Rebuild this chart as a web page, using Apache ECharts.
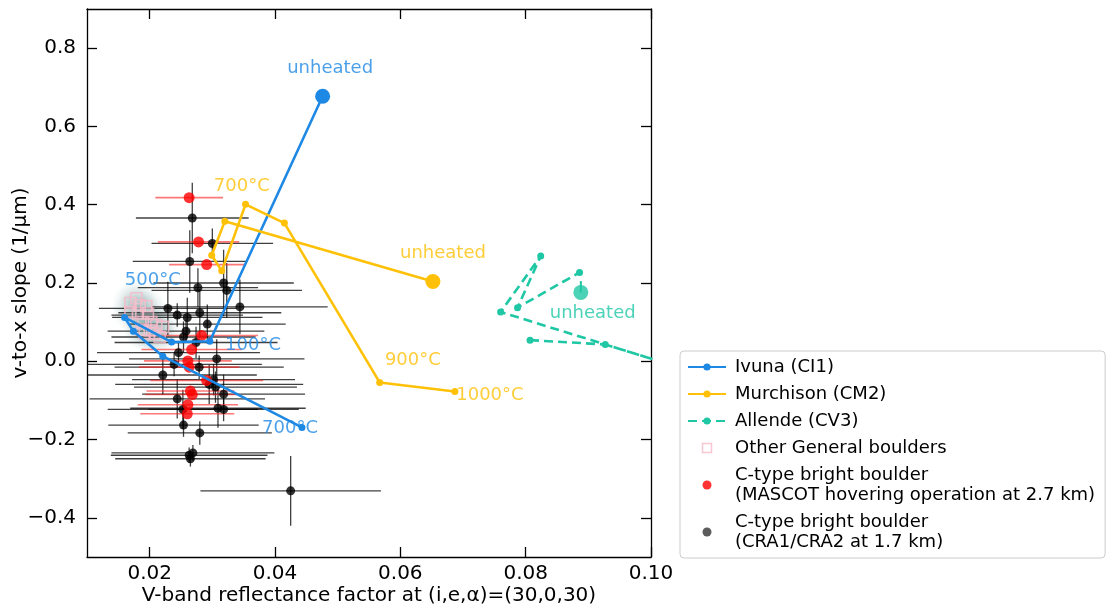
<!DOCTYPE html>
<html><head><meta charset="utf-8">
<script src="https://cdn.jsdelivr.net/npm/echarts@6/dist/echarts.min.js"></script>
<style>html,body{margin:0;padding:0;background:#fff}#c{width:1109px;height:609px}</style>
</head><body><div id="c"></div>
<script>
// ---- axis ticks ----
const xTicks = [0.02, 0.04, 0.06, 0.08, 0.10];
const yTicks = [-0.4, -0.2, 0.0, 0.2, 0.4, 0.6, 0.8];

// ---- laboratory heating sequences ----
const ivunaX = [0.0476, 0.0296, 0.0235, 0.0160, 0.0174, 0.0221, 0.0443];
const ivunaY = [0.677, 0.051, 0.049, 0.112, 0.077, 0.013, -0.169];
const murchX = [0.0652, 0.0320, 0.0299, 0.0315, 0.0353, 0.0415, 0.0567, 0.0687];
const murchY = [0.204, 0.358, 0.271, 0.231, 0.401, 0.353, -0.054, -0.077];
const allendeX = [0.0807, 0.0927, 0.1078, 0.0760, 0.0824, 0.0787, 0.0886];
const allendeY = [0.054, 0.043, -0.032, 0.126, 0.269, 0.137, 0.227];
const allendeUnheated = [0.0888, 0.176, 0.205]; // x, y, upper error end

// ---- annotations ----
const noteText = ['unheated', '700°C', 'unheated', '500°C', '100°C', '900°C', '1000°C', '700°C', 'unheated'];
const noteX = [0.0488, 0.0347, 0.0668, 0.0205, 0.0365, 0.0620, 0.0743, 0.0424, 0.0907];
const noteY = [0.748, 0.447, 0.276, 0.207, 0.041, 0.003, -0.087, -0.171, 0.123];
const noteSeries = ['ivuna', 'murch', 'murch', 'ivuna', 'ivuna', 'murch', 'murch', 'ivuna', 'allende'];

// ---- other general boulders ----
const genX = [0.01692, 0.01788, 0.01840, 0.01947, 0.01692, 0.01813, 0.01973, 0.01893, 0.02027, 0.02107, 0.01867, 0.0200, 0.02212, 0.0216, 0.0208, 0.0192];
const genY = [0.149, 0.161, 0.143, 0.1405, 0.126, 0.122, 0.122, 0.100, 0.100, 0.092, 0.081, 0.079, 0.088, 0.062, 0.071, 0.071];

// ---- C-type bright boulders, MASCOT hovering (2.7 km) ----
const mX = [0.0263, 0.0278, 0.0291, 0.0283, 0.0267, 0.0261, 0.0263, 0.0291, 0.0265, 0.0268, 0.0261, 0.0260];
const mY = [0.418, 0.305, 0.247, 0.066, 0.030, 0.001, -0.015, -0.049, -0.076, -0.085, -0.111, -0.134];
const mXErr = [0.0054, 0.0065, 0.0060, 0.0090, 0.0080, 0.0070, 0.0080, 0.0090, 0.0070, 0.0075, 0.0080, 0.0075];

// ---- C-type bright boulders, CRA1/CRA2 (1.7 km) ----
const cX = [0.0268, 0.0300, 0.0264, 0.0318, 0.0277, 0.0323, 0.0344, 0.0229, 0.0244, 0.0260, 0.0280, 0.0292, 0.0258, 0.0254, 0.0274, 0.0246, 0.0307, 0.0239, 0.0279, 0.0221, 0.0302, 0.0295, 0.0305, 0.0318, 0.0244, 0.0253, 0.0309, 0.0318, 0.0254, 0.0280, 0.0263, 0.0269, 0.0265, 0.0425];
const cY = [0.366, 0.301, 0.255, 0.200, 0.188, 0.181, 0.139, 0.135, 0.118, 0.112, 0.124, 0.095, 0.077, 0.062, 0.048, 0.022, 0.006, -0.008, -0.015, -0.035, -0.047, -0.059, -0.066, -0.084, -0.096, -0.123, -0.120, -0.123, -0.163, -0.183, -0.240, -0.234, -0.249, -0.331];
const cXErr = [0.0090, 0.0097, 0.0091, 0.0112, 0.0096, 0.0120, 0.0140, 0.0110, 0.0105, 0.0120, 0.0130, 0.0125, 0.0125, 0.0115, 0.0130, 0.0130, 0.0140, 0.0140, 0.0135, 0.0150, 0.0130, 0.0150, 0.0130, 0.0130, 0.0140, 0.0120, 0.0140, 0.0120, 0.0120, 0.0115, 0.0125, 0.0130, 0.0120, 0.0144];
const cYErr = [0.090, 0.038, 0.080, 0.085, 0.050, 0.070, 0.070, 0.068, 0.030, 0.050, 0.060, 0.050, 0.030, 0.040, 0.040, 0.030, 0.050, 0.030, 0.030, 0.050, 0.040, 0.050, 0.040, 0.050, 0.050, 0.050, 0.050, 0.030, 0.030, 0.030, 0.020, 0.020, 0.020, 0.089];

const FONT = 'DejaVu Sans';
const C_IVUNA = '#1e88e5', C_MURCH = '#ffc107', C_ALL = '#1fc7a5', C_PINK = '#f8b8c8';
const noteColor = {ivuna: C_IVUNA, murch: C_MURCH, allende: C_ALL};

const N_IVUNA = 'Ivuna (CI1)', N_MURCH = 'Murchison (CM2)', N_ALL = 'Allende (CV3)';
const N_GEN = 'Other General boulders';
const N_M = 'C-type bright boulder\n(MASCOT hovering operation at 2.7 km)';
const N_C = 'C-type bright boulder\n(CRA1/CRA2 at 1.7 km)';

const zip = (a, b) => a.map((v, i) => [v, b[i]]);

function errRender(color, width) {
  return function (params, api) {
    const x = api.value(0), y = api.value(1), xe = api.value(2), ye = api.value(3);
    const children = [];
    if (xe > 0) {
      const a = api.coord([x - xe, y]), b = api.coord([x + xe, y]);
      children.push({type: 'line', shape: {x1: a[0], y1: a[1], x2: b[0], y2: b[1]}, style: {stroke: color, lineWidth: width}});
    }
    if (ye > 0) {
      const a = api.coord([x, y - ye]), b = api.coord([x, y + ye]);
      children.push({type: 'line', shape: {x1: a[0], y1: a[1], x2: b[0], y2: b[1]}, style: {stroke: color, lineWidth: width}});
    }
    return {type: 'group', children};
  };
}

const axisCommon = {
  type: 'value', scale: false,
  axisLine: {show: true, onZero: false, lineStyle: {color: '#000', width: 1.3}},
  splitLine: {show: false},
  nameMoveOverlap: false
};
const tickStyle = {show: true, inside: true, length: 10, lineStyle: {color: '#000', width: 1.3}};

const glowColor = {
  type: 'radial', x: 0.5, y: 0.5, r: 0.5,
  colorStops: [
    {offset: 0, color: 'rgba(25,95,95,0.16)'},
    {offset: 0.6, color: 'rgba(25,95,95,0.07)'},
    {offset: 1, color: 'rgba(25,95,95,0)'}
  ]
};

const chart = echarts.init(document.getElementById('c'), null, {renderer: 'canvas'});
chart.setOption({
  animation: false,
  backgroundColor: '#fff',
  grid: {left: 87, right: 458, top: 9, bottom: 52, containLabel: false, outerBoundsMode: 'none'},
  xAxis: [
    Object.assign({}, axisCommon, {
      min: 0.01, max: 0.10, position: 'bottom',
      name: 'V-band reflectance factor at (i,e,α)=(30,0,30)', nameLocation: 'middle', nameGap: 29,
      nameTextStyle: {fontFamily: FONT, fontSize: 20, color: '#000'},
      axisTick: Object.assign({customValues: xTicks}, tickStyle),
      axisLabel: {show: true, margin: 7, fontFamily: FONT, fontSize: 20, color: '#000', customValues: xTicks, formatter: v => v.toFixed(2)}
    }),
    Object.assign({}, axisCommon, {
      min: 0.01, max: 0.10, position: 'top',
      axisTick: Object.assign({customValues: xTicks}, tickStyle),
      axisLabel: {show: false}
    })
  ],
  yAxis: [
    Object.assign({}, axisCommon, {
      min: -0.5, max: 0.9, position: 'left',
      name: 'v-to-x slope (1/μm)', nameLocation: 'middle', nameGap: 56,
      nameTextStyle: {fontFamily: FONT, fontSize: 20, color: '#000'},
      axisTick: Object.assign({customValues: yTicks}, tickStyle),
      axisLabel: {show: true, margin: 11, fontFamily: FONT, fontSize: 20, color: '#000', customValues: yTicks,
        formatter: v => (v < 0 ? '\u2212' : '') + Math.abs(v).toFixed(1)}
    }),
    Object.assign({}, axisCommon, {
      min: -0.5, max: 0.9, position: 'right',
      axisTick: Object.assign({customValues: yTicks}, tickStyle),
      axisLabel: {show: false}
    })
  ],
  legend: {
    orient: 'vertical', left: 680, top: 351,
    padding: [6, 10, 6, 7], itemGap: 7, itemWidth: 38, itemHeight: 9,
    borderColor: '#cccccc', borderWidth: 1, borderRadius: 4, backgroundColor: '#fff',
    selectedMode: false, symbolKeepAspect: true,
    textStyle: {fontFamily: FONT, fontSize: 18, color: '#000', lineHeight: 20, padding: [0, 0, 0, 4]},
    data: [
      {name: N_IVUNA},
      {name: N_MURCH},
      {name: N_ALL},
      {name: N_GEN, icon: 'path://M0,0H10V10H0Z', itemStyle: {color: 'rgba(0,0,0,0)', borderColor: C_PINK, borderWidth: 1.5}},
      {name: N_M, icon: 'circle', itemStyle: {color: '#ff0000', borderWidth: 0}},
      {name: N_C, icon: 'circle', itemStyle: {color: '#333333', borderWidth: 0}}
    ]
  },
  series: [
    {
      type: 'scatter', name: 'glow', z: 0, symbol: 'circle', symbolSize: 38, silent: true,
      itemStyle: {color: glowColor},
      data: zip(genX, genY)
    },
    {
      type: 'custom', name: 'cErr', z: 1, silent: true, clip: true,
      renderItem: errRender('rgba(0,0,0,0.75)', 1.3),
      data: cX.map((x, i) => [x, cY[i], cXErr[i], cYErr[i]]),
      encode: {x: 0, y: 1}
    },
    {
      type: 'custom', name: 'mErr', z: 2, silent: true, clip: true,
      renderItem: errRender('rgba(255,30,30,0.6)', 1.6),
      data: mX.map((x, i) => [x, mY[i], mXErr[i], 0]),
      encode: {x: 0, y: 1}
    },
    {
      type: 'scatter', name: N_C, z: 3, symbol: 'circle', symbolSize: 9,
      itemStyle: {color: '#000'}, data: zip(cX, cY)
    },
    {
      type: 'scatter', name: N_M, z: 4, symbol: 'circle', symbolSize: 11,
      itemStyle: {color: '#ff0000'}, data: zip(mX, mY)
    },
    {
      type: 'scatter', name: N_GEN, z: 6, symbol: 'rect', symbolSize: 11,
      itemStyle: {color: 'rgba(255,255,255,0.15)', borderColor: C_PINK, borderWidth: 1.6},
      data: zip(genX, genY)
    },
    {
      type: 'line', name: N_IVUNA, z: 7, showAllSymbol: true, symbol: 'circle',
      symbolSize: (v, p) => p.dataIndex === 0 ? 15 : 7,
      lineStyle: {color: C_IVUNA, width: 2.6}, itemStyle: {color: C_IVUNA},
      data: zip(ivunaX, ivunaY)
    },
    {
      type: 'line', name: N_MURCH, z: 7, showAllSymbol: true, symbol: 'circle',
      symbolSize: (v, p) => p.dataIndex === 0 ? 15 : 7,
      lineStyle: {color: C_MURCH, width: 2.6}, itemStyle: {color: C_MURCH},
      data: zip(murchX, murchY)
    },
    {
      type: 'line', name: N_ALL, z: 7, showAllSymbol: true, symbol: 'circle', symbolSize: 7, clip: true,
      lineStyle: {color: C_ALL, width: 2.6, type: [9, 5]}, itemStyle: {color: C_ALL},
      data: zip(allendeX, allendeY)
    },
    {
      type: 'custom', name: 'allendeErr', z: 7, silent: true,
      renderItem: function (params, api) {
        const a = api.coord([api.value(0), api.value(1)]), b = api.coord([api.value(0), api.value(2)]);
        return {type: 'line', shape: {x1: a[0], y1: a[1], x2: b[0], y2: b[1]}, style: {stroke: C_ALL, lineWidth: 2}};
      },
      data: [allendeUnheated], encode: {x: 0, y: 1}
    },
    {
      type: 'scatter', name: 'Allende unheated', z: 8, symbol: 'circle', symbolSize: 15,
      itemStyle: {color: C_ALL}, data: [[allendeUnheated[0], allendeUnheated[1]]]
    },
    {
      type: 'scatter', name: 'notes', z: 9, silent: true, symbolSize: 1,
      itemStyle: {color: 'rgba(0,0,0,0)'},
      label: {show: true, position: 'inside', fontFamily: FONT, fontSize: 18, formatter: p => p.name},
      data: noteText.map((t, i) => ({name: t, value: [noteX[i], noteY[i]], label: {color: noteColor[noteSeries[i]]}}))
    }
  ]
});
</script>
</body></html>
